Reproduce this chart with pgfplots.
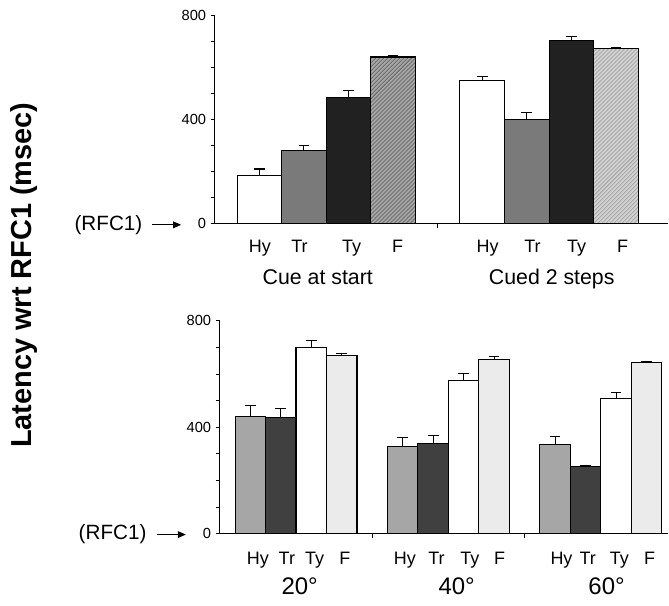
\documentclass[border=0pt]{standalone}
\usepackage{fontspec}
\setmainfont{Liberation Sans}
\usepackage{pgfplots}
\pgfplotsset{compat=1.18}
\usetikzlibrary{arrows.meta,patterns}

\pgfplotsset{
  panel/.style={
    scale only axis,
    axis lines*=left,
    xmin=0, ymin=0, ymax=800,
    ytick={0,400,800},
    minor y tick num=3,
    tick align=outside,
    major tick length=3pt, minor tick length=3pt,
    tick style={black, line width=0.6pt},
    axis line style={line width=0.8pt},
    yticklabel style={font=\fontsize{11}{12}\selectfont},
    /pgf/number format/assume math mode=true,
    xticklabels={},
    clip=false,
    every axis plot/.append style={ybar, bar width=1, bar shift=0pt,
      draw=black, line width=0.8pt},
    error bars/y dir=plus, error bars/y explicit,
    error bars/error mark=|,
    error bars/error mark options={mark size=4pt, line width=0.8pt, black},
    error bars/error bar style={line width=0.8pt, black},
  },
}
\tikzset{
  cat/.style={font=\fontsize{13.5}{15}\selectfont, anchor=base, yshift=-21.75pt},
  catb/.style={font=\fontsize{13.5}{15}\selectfont, anchor=base, yshift=-22.9pt},
  grp/.style={font=\fontsize{16}{18}\selectfont, anchor=base, yshift=-45.4pt},
  deg/.style={font=\fontsize{18}{20}\selectfont, anchor=base, yshift=-45.75pt},
}

\begin{document}
\begin{tikzpicture}
\path (0,0) rectangle (501.75pt,-454.5pt);

% y label
\node[rotate=90, font=\fontsize{21.7}{24}\selectfont\bfseries] at (17.8pt,-206.6pt) {Latency wrt RFC1 (msec)};

% RFC1 markers
\node[font=\fontsize{15.5}{17}\selectfont] at (81.4pt,-168.75pt) {(RFC1)};
\draw[line width=0.7pt, -{Triangle[length=6pt,width=5pt]}] (114pt,-168.75pt) -- (136pt,-168.75pt);
\node[font=\fontsize{15.5}{17}\selectfont] at (84.5pt,-401.25pt) {(RFC1)};
\draw[line width=0.7pt, -{Triangle[length=6pt,width=5pt]}] (117.5pt,-401.25pt) -- (139.5pt,-401.25pt);

% top panel
\begin{axis}[panel, at={(161.25pt,-168pt)}, anchor=south west,
  width=340.5pt, height=156.75pt, xmax=10.18, xtick={5}]
\addplot[fill=white] coordinates {(1,185) +- (0,25) (6,549) +- (0,15)};
\addplot[fill=black!52] coordinates {(2,280) +- (0,20) (7,401) +- (0,26)};
\addplot[fill=black!87] coordinates {(3,485) +- (0,27) (8,703) +- (0,13)};
\addplot[fill=black!35, postaction={pattern=north east lines, pattern color=black!65}] coordinates {(4,639) +- (0,5)};
\addplot[fill=black!18, postaction={pattern=north east lines, pattern color=black!40}] coordinates {(9,673) +- (0,2)};
\node[cat] at (axis cs:1.01,0) {Hy};
\node[cat] at (axis cs:1.9,0) {Tr};
\node[cat] at (axis cs:3.07,0) {Ty};
\node[cat] at (axis cs:4.1,0) {F};
\node[cat] at (axis cs:6.12,0) {Hy};
\node[cat] at (axis cs:7.13,0) {Tr};
\node[cat] at (axis cs:8.12,0) {Ty};
\node[cat] at (axis cs:9.15,0) {F};
\node[grp] at (axis cs:2.31,0) {Cue at start};
\node[grp] at (axis cs:7.56,0) {Cued 2 steps};
\end{axis}

% bottom panel
\begin{axis}[panel, at={(165pt,-400.5pt)}, anchor=south west,
  width=336.75pt, height=159.75pt, xmax=14.72, xtick={5,10}]
\addplot[fill=black!35] coordinates {(1,441) +- (0,39) (6,326) +- (0,36) (11,335) +- (0,31)};
\addplot[fill=black!75] coordinates {(2,438) +- (0,31) (7,340) +- (0,28) (12,251) +- (0,5)};
\addplot[fill=white] coordinates {(3,698) +- (0,28) (8,577) +- (0,26) (13,507) +- (0,25)};
\addplot[fill=black!8] coordinates {(4,669) +- (0,9) (9,655) +- (0,9) (14,644) +- (0,4)};
\node[catb] at (axis cs:1.25,0) {Hy};
\node[catb] at (axis cs:2.2,0) {Tr};
\node[catb] at (axis cs:3.11,0) {Ty};
\node[catb] at (axis cs:4.1,0) {F};
\node[catb] at (axis cs:6.07,0) {Hy};
\node[catb] at (axis cs:7.11,0) {Tr};
\node[catb] at (axis cs:8.2,0) {Ty};
\node[catb] at (axis cs:9.18,0) {F};
\node[catb] at (axis cs:11.21,0) {Hy};
\node[catb] at (axis cs:12.07,0) {Tr};
\node[catb] at (axis cs:13.11,0) {Ty};
\node[catb] at (axis cs:14.1,0) {F};
\node[deg] at (axis cs:2.62,0) {20°};
\node[deg] at (axis cs:7.77,0) {40°};
\node[deg] at (axis cs:12.69,0) {60°};
\end{axis}
\end{tikzpicture}
\end{document}
